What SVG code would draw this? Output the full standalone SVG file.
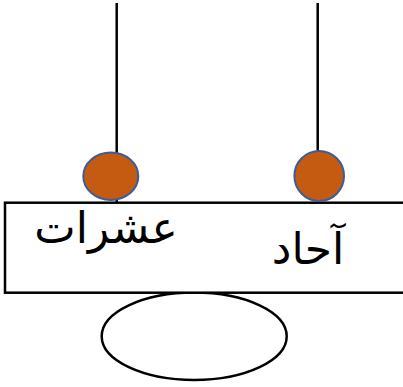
<svg xmlns="http://www.w3.org/2000/svg" width="403" height="387" viewBox="0 0 403 387">
<style>
.rod{stroke:#000;stroke-width:2.5;fill:none}
.bead{fill:#c55a11;stroke:#3d5c9a;stroke-width:2}
.frame{fill:#fff;stroke:#000;stroke-width:2.5}
.lbl{font-family:"DejaVu Sans",sans-serif;font-size:44px;fill:#000;text-anchor:middle}
</style>
<g id="base"><ellipse cx="194.2" cy="336.3" rx="92.5" ry="43.7" fill="#fff" stroke="#000" stroke-width="2.5"/></g>
<g id="connectors">
<line class="rod" x1="116.7" y1="3" x2="116.7" y2="203"/>
<line class="rod" x1="317.7" y1="3" x2="317.7" y2="203"/>
</g>
<g id="frame"><rect class="frame" x="5" y="202.7" width="410" height="90"/></g>
<g id="tens"><ellipse class="bead" cx="110.8" cy="176.3" rx="27.5" ry="23.7"/><text class="lbl" x="106" y="243">عشرات</text></g>
<g id="ones"><ellipse class="bead" cx="319.2" cy="176" rx="24.8" ry="25"/><text class="lbl" x="308" y="264">آحاد</text></g>
</svg>
